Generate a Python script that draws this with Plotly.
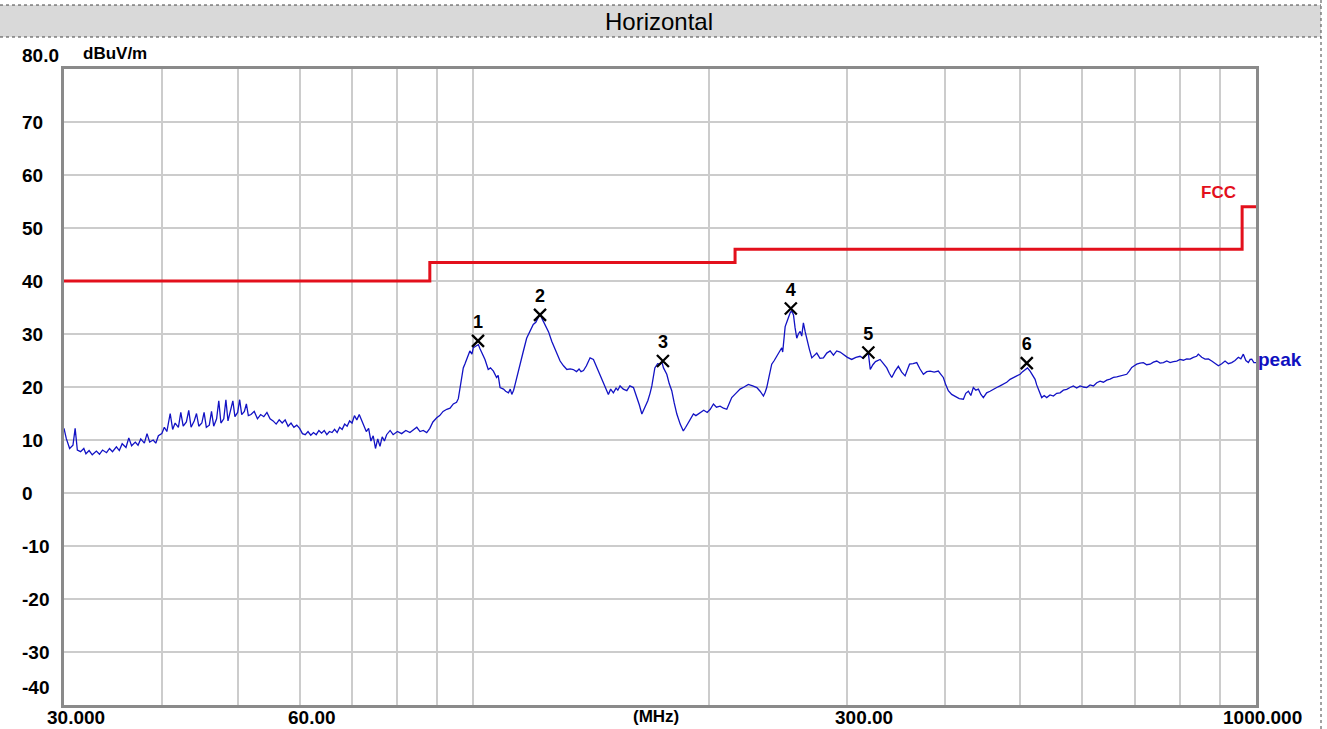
import plotly.graph_objects as go

# ---------------- data ----------------
freq_mhz = [
    30.0, 30.2, 30.5, 30.8, 31.0, 31.2, 31.5, 31.8, 32.0, 32.3, 32.6, 33.0, 33.3, 33.6, 34.0, 34.3, 34.6,
    35.0, 35.3, 35.6, 36.0, 36.3, 36.6, 37.0, 37.3, 37.6, 38.0, 38.3, 38.6, 39.0, 39.3, 39.6,
    40.0, 40.3, 40.6, 41.0, 41.3, 41.6, 42.0, 42.3, 42.6, 43.0, 43.3, 43.6, 44.0, 44.3, 44.6,
    45.0, 45.3, 45.6, 46.0, 46.3, 46.6, 47.0, 47.3, 47.6, 48.0, 48.3, 48.6, 49.0, 49.3, 49.6,
    50.0, 50.3, 50.6, 51.0, 51.3, 51.6, 52.0, 52.5, 53.0, 53.5, 54.0, 54.5, 55.0, 55.5, 56.0, 56.5,
    57.0, 57.5, 58.0, 58.5, 59.0, 59.5, 60.0, 60.5, 61.0, 61.5, 62.0, 62.5, 63.0, 63.5, 64.0, 64.5,
    65.0, 65.5, 66.0, 66.5, 67.0, 67.5, 68.0, 68.5, 69.0, 69.5, 70.0, 70.5, 71.0, 71.5, 72.0, 72.5,
    73.0, 73.5, 74.0, 74.5, 75.0, 75.5, 76.0, 76.5, 77.0, 77.5, 78.3, 79.0, 80.0, 81.0, 82.0, 83.0,
    84.0, 84.7, 85.5, 86.3, 87.2, 88.0, 88.8, 89.8, 90.6, 91.5, 92.5, 93.4, 94.3, 95.2, 95.7, 96.2,
    96.7, 97.1, 97.6, 98.3, 99.0, 99.6, 100.0, 100.7, 101.5, 102.0, 102.7, 103.5, 104.5, 105.2, 106.1,
    107.1, 107.6, 108.2, 109.3, 110.0, 110.9, 111.5, 112.0, 112.6, 113.1, 114.0, 114.8, 115.8, 117.0,
    118.2, 119.3, 120.2, 121.1, 121.7, 122.5, 123.5, 124.8, 126.0, 127.5, 129.1, 130.4, 131.7, 133.0,
    134.2, 135.5, 136.5, 137.3, 138.3, 139.5, 141.0, 142.4, 143.5, 145.2, 147.0, 148.8, 149.8, 151.0,
    152.2, 153.0, 154.0, 155.5, 157.1, 158.5, 160.2, 161.0, 161.8, 163.0, 164.2, 165.5, 167.1, 168.2,
    169.1, 170.6, 172.0, 173.2, 174.1, 175.0, 176.7, 178.0, 179.3, 180.6, 182.0, 183.8, 185.5, 186.8,
    188.3, 189.6, 191.1, 192.5, 194.9, 197.0, 199.0, 200.8, 202.7, 204.5, 206.7, 208.8, 210.8, 212.3,
    213.9, 216.5, 219.2, 221.8, 224.6, 227.5, 230.3, 232.5, 234.8, 236.0, 237.1, 238.9, 240.6, 242.4,
    244.2, 246.0, 247.8, 248.5, 250.3, 252.0, 254.0, 255.2, 256.5, 257.7, 259.0, 260.2, 261.6, 262.8,
    264.1, 265.5, 266.8, 268.7, 270.7, 272.7, 274.7, 277.3, 280.1, 282.9, 285.7, 288.5, 291.3, 294.2,
    297.0, 300.6, 304.4, 308.2, 312.0, 315.0, 318.2, 319.7, 321.5, 324.0, 326.5, 330.9, 334.2, 337.5,
    340.0, 342.5, 345.8, 349.2, 352.7, 356.2, 358.5, 360.9, 364.7, 368.6, 372.2, 375.9, 379.6, 383.4,
    388.0, 392.8, 395.7, 398.6, 401.5, 404.5, 408.5, 412.6, 417.7, 422.8, 425.8, 429.1, 432.2, 435.4,
    438.6, 441.9, 445.2, 448.4, 452.8, 457.3, 461.8, 466.4, 471.0, 475.6, 480.3, 485.1, 489.9, 494.7,
    499.6, 503.3, 507.0, 510.5, 514.5, 518.3, 522.1, 524.6, 527.2, 529.8, 532.4, 536.3, 540.3, 545.6,
    551.0, 556.4, 561.9, 567.4, 573.0, 578.6, 584.3, 590.1, 596.0, 601.9, 607.8, 613.8, 619.8, 626.0,
    632.1, 638.3, 644.6, 651.0, 657.4, 663.9, 670.4, 677.0, 683.6, 688.7, 693.9, 699.0, 704.1, 711.0,
    718.0, 725.1, 732.3, 739.5, 746.8, 754.2, 761.6, 769.1, 776.7, 784.4, 792.1, 799.8, 807.6, 815.5,
    823.6, 831.6, 839.8, 844.0, 852.4, 860.8, 869.3, 877.9, 886.5, 895.3, 904.1, 913.0, 922.0, 931.1,
    940.2, 949.4, 956.4, 963.4, 970.6, 977.8, 983.0, 987.6, 993.8, 1000.0,
]
level_dbuv = [
    12.2, 10.3, 8.4, 9.0, 12.2, 8.1, 7.8, 8.4, 7.4, 8.0, 7.2, 7.9, 7.3, 8.1, 7.6, 8.4, 7.8,
    8.7, 8.0, 9.3, 8.6, 10.4, 8.9, 9.6, 9.0, 10.2, 9.4, 11.2, 9.6, 10.0, 9.4, 10.8,
    11.2, 12.4, 11.6, 15.0, 12.0, 13.2, 12.4, 15.2, 12.6, 13.4, 15.6, 12.4, 13.6, 15.0, 12.6,
    13.2, 15.2, 12.4, 12.8, 15.4, 12.6, 14.0, 17.4, 13.2, 14.0, 17.6, 13.6, 15.6, 17.4, 14.4,
    15.2, 17.6, 14.8, 15.4, 16.8, 14.6, 14.8, 15.4, 14.0, 14.8, 14.4, 15.2, 14.0, 13.6, 13.0, 13.8,
    13.2, 13.8, 12.6, 13.2, 12.4, 12.8, 12.2, 11.2, 11.0, 11.6, 10.9, 11.4, 11.0, 11.8, 11.3, 11.8,
    11.0, 11.6, 11.4, 12.0, 11.4, 12.4, 12.0, 13.0, 12.6, 13.6, 13.2, 14.6, 13.8, 14.8, 13.6, 12.8,
    11.6, 12.2, 9.8, 10.8, 8.4, 10.2, 8.8, 10.6, 9.8, 11.0, 11.8, 11.0, 11.6, 11.2, 11.8, 11.4,
    12.0, 12.4, 11.6, 11.8, 11.4, 12.2, 13.4, 14.2, 14.6, 15.4, 15.8, 16.0, 16.8, 17.1, 17.8, 19.9,
    21.6, 23.6, 24.4, 25.6, 26.8, 26.2, 27.4, 27.7, 28.0, 27.2, 26.4, 25.2, 23.3, 23.6, 23.0,
    21.8, 22.2, 19.9, 19.6, 19.2, 18.9, 19.6, 18.6, 19.4, 20.5, 22.4, 24.2, 26.6, 29.2,
    30.6, 31.8, 32.2, 33.0, 33.8, 32.8, 31.8, 30.4, 28.6, 26.8, 24.9, 24.0, 23.3, 23.4,
    23.3, 22.9, 23.4, 22.9, 23.1, 24.0, 25.5, 25.2, 24.0, 22.4, 20.4, 18.6, 19.6, 18.9,
    19.8, 19.4, 20.2, 19.6, 19.3, 20.2, 19.9, 19.0, 18.3, 16.6, 14.9, 16.0, 17.4, 18.8,
    20.2, 23.6, 24.4, 24.3, 24.8, 23.6, 22.4, 20.6, 19.3, 17.0, 14.9, 13.0, 11.7, 12.4,
    13.3, 13.8, 14.9, 14.6, 15.2, 15.6, 15.2, 15.8, 16.8, 16.2, 16.4, 16.0, 15.8, 16.9,
    18.0, 18.8, 19.6, 20.0, 20.5, 20.2, 19.9, 19.2, 18.3, 19.0, 19.9, 22.2, 24.3, 25.0,
    25.8, 26.4, 27.4, 26.6, 31.4, 32.6, 34.0, 34.4, 33.6, 31.2, 29.2, 30.0, 30.5, 29.6,
    32.1, 30.4, 28.9, 27.2, 25.5, 26.0, 26.4, 25.4, 25.5, 26.4, 26.8, 26.0, 26.8, 26.6,
    26.1, 25.6, 25.2, 25.6, 25.8, 25.4, 26.1, 26.4, 23.3, 24.2, 24.8, 25.2, 24.4, 23.6,
    22.6, 21.8, 23.0, 23.9, 22.8, 22.1, 23.2, 24.3, 24.4, 24.6, 23.4, 22.4, 22.9, 23.0,
    22.8, 23.0, 22.4, 21.8, 20.4, 19.3, 18.6, 18.3, 17.8, 17.7, 18.8, 19.2, 18.4, 19.9,
    19.4, 19.6, 18.6, 18.0, 18.9, 19.2, 19.6, 19.9, 20.2, 20.5, 20.9, 21.45, 21.8, 22.1,
    22.4, 22.9, 23.35, 23.6, 23.0, 22.2, 21.45, 20.4, 19.55, 18.6, 18.0, 18.4, 18.0, 18.5,
    18.3, 18.8, 18.9, 19.4, 19.55, 19.9, 20.2, 19.8, 20.2, 20.0, 19.9, 20.4, 20.2, 20.8,
    21.1, 20.9, 21.3, 21.5, 21.8, 21.9, 22.1, 22.3, 22.4, 23.0, 23.7, 24.0, 24.3, 24.5,
    24.6, 24.2, 24.3, 24.7, 24.9, 24.5, 24.6, 24.9, 24.6, 24.8, 24.9, 25.2, 25.05, 25.3,
    25.25, 25.6, 25.8, 26.2, 25.6, 25.25, 25.3, 24.9, 24.5, 24.0, 24.4, 24.9, 24.4, 24.6,
    25.0, 25.6, 25.3, 26.2, 25.0, 24.6, 25.2, 25.25, 24.6, 24.6,
]

limit_freq = [30, 88, 216, 960, 1000]
limit_level = [40, 43.5, 46, 54, 54]

marker_freq = [101.4, 121.7, 174.7, 254.5, 319.7, 509.5]
marker_level = [28.7, 33.6, 24.9, 34.8, 26.5, 24.5]
marker_label = ["1", "2", "3", "4", "5", "6"]

grid_freq = [40, 50, 60, 70, 80, 90, 100, 200, 300, 400, 500, 600, 700, 800, 900]
y_ticks = [80, 70, 60, 50, 40, 30, 20, 10, 0, -10, -20, -30, -40]
y_tick_text = ["80.0", "70", "60", "50", "40", "30", "20", "10", "0", "-10", "-20", "-30", "-40"]
x_label_freq = [30, 60, 300, 1000]
x_label_text = ["30.000", "60.00", "300.00", "1000.000"]

# ---------------- geometry helpers (pixels -> paper) ----------------
W, H = 1327, 729
L, R, T, B = 64, 71, 69, 24
PW, PH = W - L - R, H - T - B


def px(x):
    return (x - L) / PW


def py(y):
    return (H - B - y) / PH


FONT = "Liberation Sans, Arial, sans-serif"
RED = "#e3101c"
BLUE = "#1212c4"

fig = go.Figure()

fig.add_trace(go.Scatter(
    x=limit_freq, y=limit_level, mode="lines", line=dict(color=RED, width=3, shape="hv"),
    hoverinfo="skip", showlegend=False))

fig.add_trace(go.Scatter(
    x=freq_mhz, y=level_dbuv, mode="lines", line=dict(color=BLUE, width=1.3),
    showlegend=False))

fig.add_trace(go.Scatter(
    x=marker_freq, y=marker_level, mode="markers+text", text=["<b>%s</b>" % s for s in marker_label],
    textposition="top center", textfont=dict(family=FONT, size=18, color="black"),
    marker=dict(symbol="x-thin", size=12, line=dict(color="black", width=2.3)),
    showlegend=False))

fig.update_xaxes(
    type="log", range=[1.4771213, 3.0], tickvals=grid_freq, showticklabels=False, ticks="",
    showgrid=True, gridcolor="#cccccc", gridwidth=1.6, zeroline=False,
    showline=True, mirror=True, linecolor="#8a8a8a", linewidth=3)
fig.update_yaxes(
    range=[-40, 80], tickvals=list(range(-30, 80, 10)), showticklabels=False, ticks="",
    showgrid=True, gridcolor="#cccccc", gridwidth=1.6, zeroline=False,
    showline=True, mirror=True, linecolor="#8a8a8a", linewidth=3)

ann = []
for v, t in zip(y_ticks, y_tick_text):
    shift = 0
    if v == 80:
        shift = 14
    elif v == -40:
        shift = 18
    ann.append(dict(xref="paper", yref="y", x=px(20), y=v, text="<b>%s</b>" % t, showarrow=False,
                    xanchor="left", yanchor="middle", yshift=shift,
                    font=dict(family=FONT, size=19, color="black")))

x_centers = {30: 76, 60: 312, 300: 864, 1000: 1262}
for f, t in zip(x_label_freq, x_label_text):
    ann.append(dict(xref="paper", yref="paper", x=px(x_centers[f]), y=py(717), text="<b>%s</b>" % t,
                    showarrow=False, xanchor="center", yanchor="middle",
                    font=dict(family=FONT, size=19, color="black")))

ann.append(dict(xref="paper", yref="paper", x=px(656), y=py(716), text="<b>(MHz)</b>", showarrow=False,
                xanchor="center", yanchor="middle", font=dict(family=FONT, size=17, color="black")))
ann.append(dict(xref="paper", yref="paper", x=px(81), y=py(53), text="<b>dBuV/m</b>", showarrow=False,
                xanchor="left", yanchor="middle", font=dict(family=FONT, size=17, color="black")))
ann.append(dict(xref="paper", yref="paper", x=px(1218), y=py(192), text="<b>FCC</b>", showarrow=False,
                xanchor="center", yanchor="middle", font=dict(family=FONT, size=17, color=RED)))
ann.append(dict(xref="paper", yref="paper", x=px(1256), y=py(360), text="<b>peak</b>", showarrow=False,
                xanchor="left", yanchor="middle", font=dict(family=FONT, size=19, color="#1010c0")))
ann.append(dict(xref="paper", yref="paper", x=px(659), y=py(22), text="Horizontal", showarrow=False,
                xanchor="center", yanchor="middle", font=dict(family=FONT, size=24, color="black")))

shapes = [
    dict(type="rect", xref="paper", yref="paper", x0=px(0), x1=px(1321), y0=py(37), y1=py(5),
         fillcolor="#d9d9d9", line=dict(width=0), layer="below"),
    dict(type="line", xref="paper", yref="paper", x0=px(0), x1=px(1321), y0=py(5), y1=py(5),
         line=dict(color="#444444", width=1, dash="dot")),
    dict(type="line", xref="paper", yref="paper", x0=px(0), x1=px(1321), y0=py(37), y1=py(37),
         line=dict(color="#444444", width=1, dash="dot")),
    dict(type="line", xref="paper", yref="paper", x0=px(1321), x1=px(1321), y0=py(0), y1=py(729),
         line=dict(color="#444444", width=1, dash="dot")),
]

fig.update_layout(
    width=W, height=H, margin=dict(l=L, r=R, t=T, b=B, pad=0),
    paper_bgcolor="white", plot_bgcolor="white",
    annotations=ann, shapes=shapes, showlegend=False,
)

fig.write_html("out.html", config={"displayModeBar": False},
               post_script="document.body.style.margin='0';")
